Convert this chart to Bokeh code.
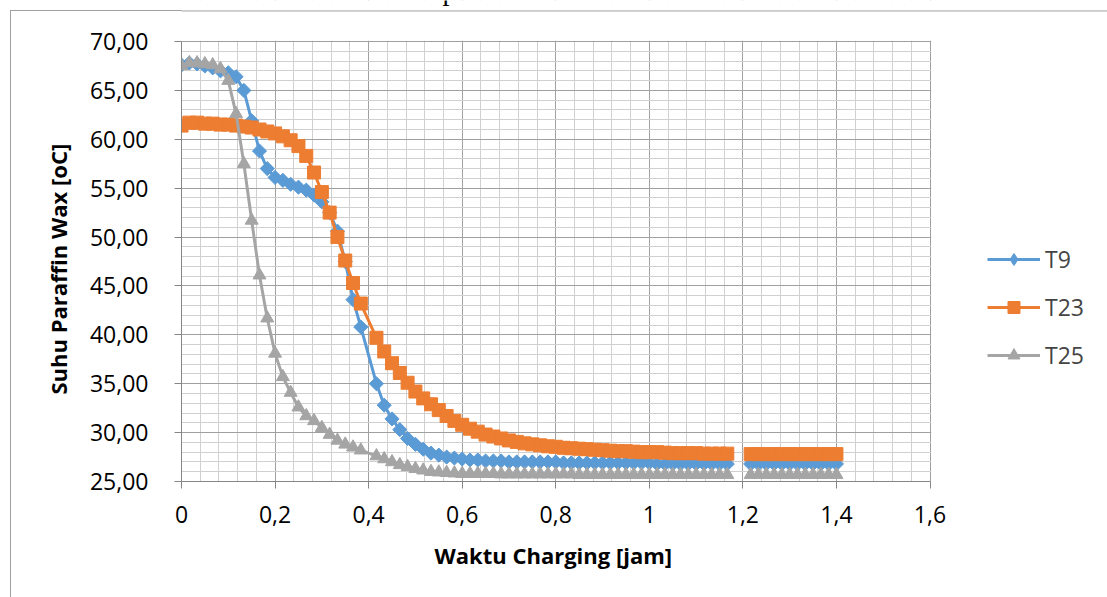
import numpy as np
from bokeh.plotting import figure
from bokeh.models import (FixedTicker, CustomJSTickFormatter, Legend, LegendItem,
                          Range1d, Label, BoxAnnotation, Span, Title)
from bokeh.embed import file_html
from bokeh.resources import INLINE

nan = float("nan")

waktu = [0.0, 0.0167, 0.0333, 0.05, 0.0667, 0.0833, 0.1, 0.1167, 0.1333, 0.15,
         0.1667, 0.1833, 0.2, 0.2167, 0.2333, 0.25, 0.2667, 0.2833, 0.3, 0.3167,
         0.3333, 0.35, 0.3667, 0.3833,
         0.4167, 0.4333, 0.45, 0.4667, 0.4833, 0.5, 0.5167, 0.5333, 0.55, 0.5667,
         0.5833, 0.6, 0.6167, 0.6333, 0.65, 0.6667, 0.6833, 0.7, 0.7167, 0.7333,
         0.75, 0.7667, 0.7833, 0.8, 0.8167, 0.8333, 0.85, 0.8667, 0.8833, 0.9,
         0.9167, 0.9333, 0.95, 0.9667, 0.9833, 1.0, 1.0167, 1.0333, 1.05, 1.0667,
         1.0833, 1.1, 1.1167, 1.1333, 1.15, 1.1667, 1.1833, 1.2, 1.2167, 1.2333,
         1.25, 1.2667, 1.2833, 1.3, 1.3167, 1.3333, 1.35, 1.3667, 1.3833, 1.4]

t9 = [67.6, 67.8, 67.7, 67.5, 67.3, 67.0, 66.8, 66.4, 65.0, 61.9,
      58.8, 57.0, 56.1, 55.8, 55.4, 55.1, 54.8, 54.3, 53.6, 52.5,
      50.6, 47.5, 43.6, 40.8,
      35.0, 32.8, 31.4, 30.3, 29.4, 28.8, 28.3, 27.9, 27.7, 27.5,
      27.4, 27.3, 27.2, 27.2, 27.1, 27.1, 27.1, 27.0, 27.0, 27.0,
      27.0, 27.0, 27.0, 27.0, 26.9, 26.9, 26.9, 26.9, 26.9, 26.9,
      26.9, 26.9, 26.9, 26.9, 26.9, 26.9, 26.8, 26.8, 26.8, 26.8,
      26.8, 26.8, 26.8, 26.8, 26.8, 26.8, nan, nan, 26.8, 26.8,
      26.8, 26.8, 26.8, 26.8, 26.8, 26.8, 26.8, 26.8, 26.8, 26.8]

t23 = [61.4, 61.7, 61.7, 61.6, 61.6, 61.5, 61.5, 61.4, 61.3, 61.2,
       61.0, 60.8, 60.6, 60.3, 59.9, 59.3, 58.3, 56.6, 54.6, 52.5,
       50.0, 47.6, 45.3, 43.2,
       39.7, 38.3, 37.1, 36.1, 35.1, 34.2, 33.5, 32.9, 32.3, 31.7,
       31.2, 30.8, 30.4, 30.1, 29.8, 29.6, 29.4, 29.2, 29.05, 28.9,
       28.8, 28.7, 28.6, 28.55, 28.45, 28.4, 28.35, 28.3, 28.25, 28.2,
       28.15, 28.1, 28.1, 28.05, 28.0, 28.0, 28.0, 27.95, 27.9, 27.9,
       27.9, 27.9, 27.85, 27.85, 27.85, 27.85, nan, nan, 27.8, 27.8,
       27.8, 27.8, 27.8, 27.8, 27.8, 27.8, 27.8, 27.8, 27.8, 27.8]

t25 = [67.5, 67.8, 67.8, 67.7, 67.6, 67.2, 66.0, 62.6, 57.5, 51.7,
       46.1, 41.7, 38.1, 35.7, 34.1, 32.6, 31.7, 31.2, 30.5, 29.8,
       29.2, 28.8, 28.5, 28.2,
       27.6, 27.3, 27.0, 26.7, 26.5, 26.3, 26.15, 26.0, 25.95, 25.9,
       25.85, 25.8, 25.8, 25.8, 25.8, 25.8, 25.75, 25.75, 25.75, 25.75,
       25.75, 25.75, 25.75, 25.75, 25.75, 25.75, 25.7, 25.7, 25.7, 25.7,
       25.7, 25.7, 25.7, 25.7, 25.7, 25.7, 25.7, 25.7, 25.7, 25.7,
       25.7, 25.7, 25.7, 25.7, 25.7, 25.7, nan, nan, 25.7, 25.7,
       25.7, 25.7, 25.7, 25.7, 25.7, 25.7, 25.7, 25.7, 25.7, 25.7]

series_names = ["T9", "T23", "T25"]
colors = ["#5B9BD5", "#ED7D31", "#A5A5A5"]

x_ticks = [0, 0.2, 0.4, 0.6, 0.8, 1.0, 1.2, 1.4, 1.6]
y_ticks = [25, 30, 35, 40, 45, 50, 55, 60, 65, 70]
x_min, x_max = 0, 1.6
y_min, y_max = 25, 70

x_label = "Waktu Charging [jam]"
y_label = "Suhu Paraffin Wax  [oC]"

outer_bg = ("linear-gradient(#a0a0a0, #a0a0a0) 10px 10px / 1px calc(100% - 10px) no-repeat, "
            "linear-gradient(#a0a0a0, #a0a0a0) 10px 10px / calc(100% - 10px) 1px no-repeat, #ffffff")

# frame: left 181 .. right 1107, top 0 .. bottom 481; x=1.6 lands at ~929.5, y=70 at 41
x_end = 926 / (748.5 / 1.6)
y_end = 25 + 481 / (440 / 45)

p = figure(width=1107, height=597, output_backend="svg", toolbar_location=None,
           x_range=Range1d(0, x_end), y_range=Range1d(25, y_end),
           min_border_left=181, min_border_right=0, min_border_top=0, min_border_bottom=116,
           styles={"background": outer_bg})
p.background_fill_alpha = 0
p.border_fill_alpha = 0
p.outline_line_color = None

x_minor = [round(0.04 * k, 2) for k in range(41)]
y_minor = [25 + k for k in range(46)]
p.xaxis.ticker = FixedTicker(ticks=x_ticks, minor_ticks=x_minor)
p.yaxis.ticker = FixedTicker(ticks=y_ticks, minor_ticks=y_minor)
p.xaxis.bounds = (x_min, x_max)
p.yaxis.bounds = (y_min, y_max)
p.xaxis.formatter = CustomJSTickFormatter(code="var v = Math.round(tick*10)/10; return v.toString().replace('.', ',');")
p.yaxis.formatter = CustomJSTickFormatter(code="return tick.toFixed(2).replace('.', ',');")

for g in (p.xgrid, p.ygrid):
    g.grid_line_color = "#a0a0a0"
    g.grid_line_width = 1
    g.minor_grid_line_color = "#d0d0d0"
    g.minor_grid_line_width = 1

# mask grid beyond the plot area (x > 1.6, y > 70)
p.add_layout(BoxAnnotation(left=1.6025, fill_color="white", fill_alpha=1, line_alpha=0, level="underlay"))
p.add_layout(BoxAnnotation(bottom=70.08, fill_color="white", fill_alpha=1, line_alpha=0, level="underlay"))
# outer chart-area border (top edge inside the frame region)
p.add_layout(Span(location=73.12, dimension="width", line_color="#a0a0a0", line_width=1))

for ax in (p.xaxis, p.yaxis):
    ax.axis_line_color = "#868686"
    ax.major_tick_line_color = "#868686"
    ax.major_tick_out = 7
    ax.major_tick_in = 0
    ax.minor_tick_line_color = None
    ax.major_label_text_font = "Open Sans"
    ax.major_label_text_font_size = "23px"
    ax.major_label_text_color = "black"

p.yaxis.major_label_standoff = 26
p.xaxis.major_label_standoff = 17

p.add_layout(Title(text=x_label, align="left", offset=253, vertical_align="top", standoff=28,
                   text_font="Open Sans", text_font_size="22px", text_font_style="bold",
                   text_color="black"), "below")
p.add_layout(Title(text=y_label, align="left", offset=87, vertical_align="bottom", standoff=28,
                   text_font="Open Sans", text_font_size="22px", text_font_style="bold",
                   text_color="black"), "left")

r9l = p.line(waktu, t9, line_color=colors[0], line_width=3)
r9s = p.scatter(waktu, t9, marker="square", angle=np.pi / 4, size=10,
                fill_color=colors[0], line_color=colors[0])
r23l = p.line(waktu, t23, line_color=colors[1], line_width=3)
r23s = p.scatter(waktu, t23, marker="square", size=13,
                 fill_color=colors[1], line_color=colors[1])
r25l = p.line(waktu, t25, line_color=colors[2], line_width=3)
r25s = p.scatter(waktu, t25, marker="triangle", size=13,
                 fill_color=colors[2], line_color=colors[2])
# legend-only diamond glyph (legend ignores marker angle)
r9k = p.scatter([nan], [nan], marker="diamond", size=13,
                fill_color=colors[0], line_color=colors[0])

legend = Legend(items=[LegendItem(label=series_names[0], renderers=[r9l, r9k]),
                       LegendItem(label=series_names[1], renderers=[r23l, r23s]),
                       LegendItem(label=series_names[2], renderers=[r25l, r25s])],
                location=(806, 110), orientation="vertical",
                glyph_width=53, glyph_height=30, label_height=30, spacing=16,
                padding=0, margin=0, border_line_color=None, background_fill_alpha=0,
                label_text_font="Open Sans", label_text_font_size="23px", label_standoff=5)
p.add_layout(legend)

# fragment of the cut-off chart title at the very top edge
title_frag = Label(x=268, y=491, x_units="screen", y_units="screen", text="p",
                   text_font="Liberation Serif", text_font_size="28px",
                   text_align="center", text_baseline="alphabetic", text_color="black")
p.add_layout(title_frag)

open("out.html", "w").write(file_html(p, INLINE))
